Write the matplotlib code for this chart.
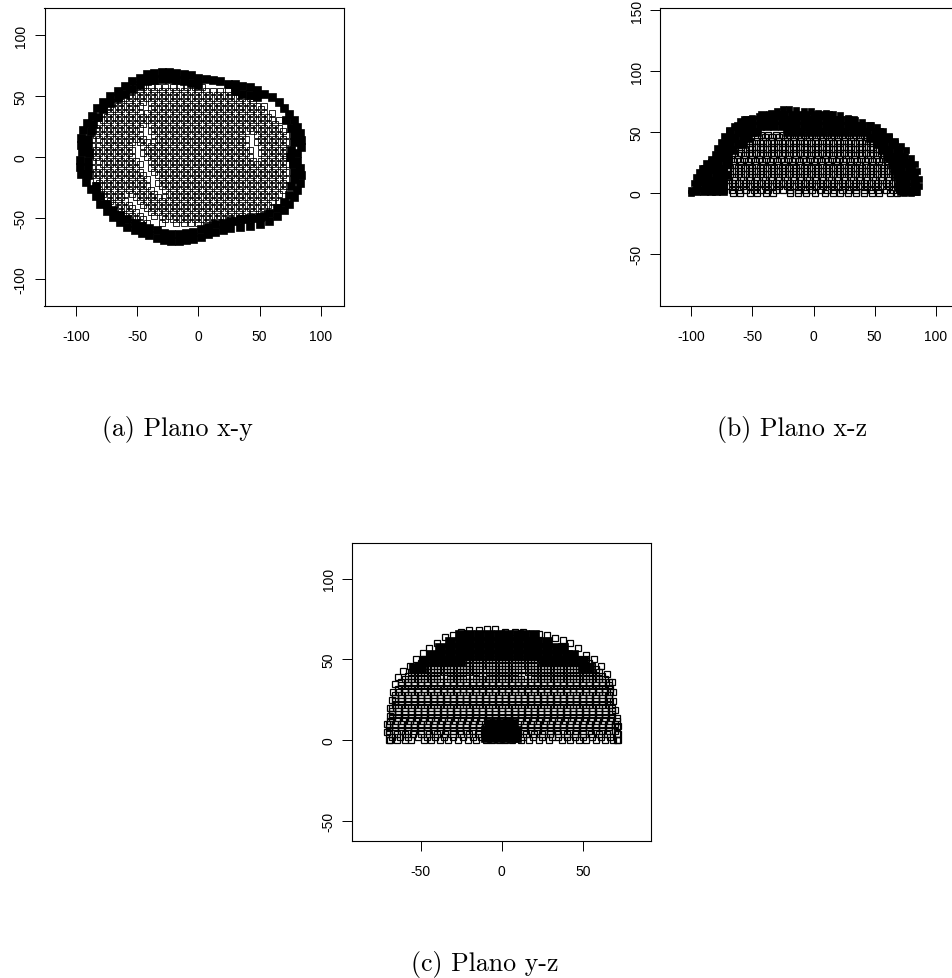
import matplotlib
matplotlib.use('Agg')
import matplotlib.pyplot as plt

W, H = 952, 979

# panel a, plano x-y
a_mesh_y = [54, 48, 42, 36, 30, 24, 18, 12, 6, 0, -6, -12, -18, -24, -30, -36, -42, -48, -54]
a_mesh_x = [
    [-60, -54, -48, -42, -36, -30, -24, -18, -12, -6, 0, 6, 12, 18, 24],
    [-66, -60, -54, -48, -42, -36, -30, -24, -18, -12, -6, 0, 6, 12, 18, 24, 30, 36, 42],
    [-72, -66, -60, -54, -48, -36, -30, -24, -18, -12, -6, 0, 6, 12, 18, 24, 30, 36, 42, 48, 54],
    [-78, -72, -66, -60, -54, -48, -42, -36, -30, -24, -18, -12, -6, 0, 6, 12, 18, 24, 30, 36, 42, 48, 54, 60],
    [-78, -72, -66, -60, -54, -48, -42, -36, -30, -24, -18, -12, -6, 0, 6, 12, 18, 24, 30, 36, 42, 48, 54, 60, 66],
    [-84, -78, -72, -66, -60, -54, -48, -36, -30, -24, -18, -12, -6, 0, 6, 12, 18, 24, 30, 36, 42, 48, 54, 60, 66],
    [-84, -78, -72, -66, -60, -54, -48, -36, -30, -24, -18, -12, -6, 0, 6, 12, 18, 24, 30, 36, 48, 54, 60, 66, 72],
    [-78, -72, -66, -60, -54, -48, -42, -36, -30, -24, -18, -12, -6, 0, 6, 12, 18, 24, 30, 36, 48, 54, 60, 66, 72],
    [-84, -78, -72, -66, -60, -54, -42, -36, -30, -24, -18, -12, -6, 0, 6, 12, 18, 24, 30, 36, 42, 54, 60, 66, 72],
    [-84, -78, -72, -66, -60, -54, -42, -36, -30, -24, -18, -12, -6, 0, 6, 12, 18, 24, 30, 36, 42, 54, 60, 66, 72],
    [-78, -72, -66, -60, -54, -48, -36, -30, -24, -18, -12, -6, 0, 6, 12, 18, 24, 30, 36, 42, 48, 54, 60, 66, 72],
    [-84, -78, -72, -66, -60, -54, -48, -36, -30, -24, -18, -12, -6, 0, 6, 12, 18, 24, 30, 36, 42, 48, 54, 60, 66, 72],
    [-84, -78, -72, -66, -60, -54, -48, -42, -30, -24, -18, -12, -6, 0, 6, 12, 18, 24, 30, 36, 42, 48, 54, 60, 66, 72],
    [-78, -72, -66, -60, -54, -48, -42, -30, -24, -18, -12, -6, 0, 6, 12, 18, 24, 30, 36, 42, 48, 54, 60, 66, 72],
    [-78, -72, -66, -60, -54, -48, -42, -36, -24, -18, -12, -6, 0, 6, 12, 18, 24, 30, 36, 42, 48, 54, 60, 66],
    [-72, -66, -60, -48, -42, -36, -30, -24, -18, -12, -6, 0, 6, 12, 18, 24, 30, 36, 42, 48, 54, 60, 66],
    [-66, -60, -54, -42, -36, -30, -24, -18, -12, -6, 0, 6, 12, 18, 24, 30, 36, 42, 48, 54, 60],
    [-60, -54, -48, -36, -30, -24, -18, -12, -6, 0, 6, 12, 18, 24, 30, 36, 42, 48],
    [-54, -48, -42, -30, -18, -12, -6, 0, 6, 12],
]
a_mesh2_y = [57, 51, 45, 39, 33, 27, 21, 15, 9, 3, -3, -9, -15, -21, -27, -33, -39, -45, -51]
a_mesh2_x = [
    [-57, -51, -45, -39, -33, -27, -21, -15, -9, -3, 3],
    [-63, -57, -51, -45, -39, -33, -27, -21, -15, -9, -3, 3, 9, 15, 21, 27, 33],
    [-69, -63, -57, -51, -45, -39, -33, -27, -21, -15, -9, -3, 3, 9, 15, 21, 27, 33, 39, 45],
    [-75, -69, -63, -57, -51, -39, -33, -27, -21, -15, -9, -3, 3, 9, 15, 21, 27, 33, 39, 45, 51],
    [-81, -75, -69, -63, -57, -51, -45, -39, -33, -27, -21, -15, -9, -3, 3, 9, 15, 21, 27, 33, 39, 45, 51, 57],
    [-81, -75, -69, -63, -57, -51, -45, -39, -33, -27, -21, -15, -9, -3, 3, 9, 15, 21, 27, 33, 39, 45, 51, 57, 63],
    [-87, -81, -75, -69, -63, -57, -51, -39, -33, -27, -21, -15, -9, -3, 3, 9, 15, 21, 27, 33, 39, 45, 51, 57, 63, 69],
    [-87, -81, -75, -69, -63, -57, -51, -45, -33, -27, -21, -15, -9, -3, 3, 9, 15, 21, 27, 33, 39, 51, 57, 63, 69],
    [-87, -81, -75, -69, -63, -57, -45, -39, -33, -27, -21, -15, -9, -3, 3, 9, 15, 21, 27, 33, 39, 51, 57, 63, 69],
    [-87, -81, -75, -69, -63, -57, -45, -39, -33, -27, -21, -15, -9, -3, 3, 9, 15, 21, 27, 33, 39, 51, 57, 63, 69],
    [-87, -81, -75, -69, -63, -57, -51, -39, -33, -27, -21, -15, -9, -3, 3, 9, 15, 21, 27, 33, 39, 45, 51, 57, 63, 69],
    [-87, -81, -75, -69, -63, -57, -51, -39, -33, -27, -21, -15, -9, -3, 3, 9, 15, 21, 27, 33, 39, 45, 51, 57, 63, 69],
    [-87, -81, -75, -69, -63, -57, -51, -45, -33, -27, -21, -15, -9, -3, 3, 9, 15, 21, 27, 33, 39, 45, 51, 57, 63, 69],
    [-81, -75, -69, -63, -57, -51, -45, -33, -27, -21, -15, -9, -3, 3, 9, 15, 21, 27, 33, 39, 45, 51, 57, 63, 69],
    [-81, -75, -69, -63, -57, -51, -45, -39, -27, -21, -15, -9, -3, 3, 9, 15, 21, 27, 33, 39, 45, 51, 57, 63, 69],
    [-75, -69, -63, -51, -45, -39, -33, -27, -21, -15, -9, -3, 3, 9, 15, 21, 27, 33, 39, 45, 51, 57, 63],
    [-69, -63, -57, -45, -39, -33, -27, -21, -15, -9, -3, 3, 9, 15, 21, 27, 33, 39, 45, 51, 57],
    [-63, -57, -51, -39, -33, -27, -21, -15, -9, -3, 3, 9, 15, 21, 27, 33, 39, 45, 51],
    [-57, -51, -45, -27, -21, -15, -9, -3, 3, 9, 15, 21, 27, 33, 39],
]
a_rim_x = [-42, -36, -30, -24, -18, -12, -6, 0, 6, 12, 18, 24, 30, 36, 42, 48, 54, 60, 66, 70, 74, 78, 81, 83, 84, 84, 81, 81, 83, 84, 83, 81, 78, 74, 70, 64, 58, 50, 42, 34, 26, 20, 14, 8, 2, -4, -10, -16, -22, -28, -34, -40, -46, -52, -58, -64, -70, -75, -80, -84, -88, -92, -96, -97, -97, -95, -96, -96, -94, -91, -87, -83, -78, -72, -66, -60, -54, -48]
a_rim_y = [68, 69, 70, 70, 69, 68, 67, 65, 64, 63, 62, 60, 60, 58, 57, 55, 52, 49, 45, 40, 35, 30, 25, 20, 14, 8, 3, -3, -9, -15, -21, -27, -33, -38, -43, -48, -52, -55, -56, -57, -58, -60, -61, -63, -65, -67, -68, -69, -69, -68, -66, -64, -62, -60, -57, -53, -49, -44, -38, -32, -26, -20, -14, -8, -2, 4, 10, 16, 22, 28, 34, 40, 45, 50, 54, 58, 62, 65]
a_band_x = [-90, -90, -90, -89, -90, -90, -88, -84, 76, 78, 78, 77, 75, 76, 78, 78, 76, 72, -36, -30, -24, -18, -12, -6, 0, -42, -48, -54, -60, -66, -72, -78, -82, -86, -34, -28, -22, -16, -10, -4, 2, 8, 14, 20, -40, -46, -52, -58, -64, -70, -75, -80, -84, 26, 30, 34, 38, 42, 46, 50, 54, 58, 64, 70, 74, 30, 36, 42, 48]
a_band_y = [-15, -9, -3, 3, 9, 15, 21, -24, -24, -18, -12, -6, 0, 6, 12, 18, 24, 30, 63, 64, 64, 63, 62, 61, 59, 62, 59, 56, 52, 48, 44, 39, 33, 27, -60, -62, -63, -63, -62, -61, -59, -57, -55, -54, -58, -56, -54, -51, -47, -43, -38, -32, -26, -52, -52, -51, -51, -50, -50, -49, -48, -46, -42, -37, -31, 54, 52, 51, 49]

# panel b, plano x-z
b_mesh_y = [46, 41, 36, 31, 26, 21, 16, 11, 6, 0]
b_mesh_x = [
    [-46, -40, -34, -28, -22, -16, -10, -4, 2, 8, 14, 20, 26, 32, 38, 44],
    [-50, -44, -38, -32, -26, -20, -14, -8, -2, 4, 10, 16, 22, 28, 34, 40, 46, 52],
    [-56, -50, -44, -38, -32, -26, -20, -14, -8, -2, 4, 10, 16, 22, 28, 34, 40, 46, 52],
    [-62, -56, -50, -44, -38, -32, -26, -20, -14, -8, -2, 4, 10, 16, 22, 28, 34, 40, 46, 52, 58],
    [-66, -60, -54, -48, -42, -36, -30, -24, -18, -12, -6, 0, 6, 12, 18, 24, 30, 36, 42, 48, 54, 60],
    [-68, -62, -56, -50, -44, -38, -32, -26, -20, -14, -8, -2, 4, 10, 16, 22, 28, 34, 40, 46, 52, 58, 64],
    [-68, -62, -56, -50, -44, -38, -32, -26, -20, -14, -8, -2, 4, 10, 16, 22, 28, 34, 40, 46, 52, 58, 64, 68],
    [-70, -64, -58, -52, -46, -40, -34, -28, -22, -16, -10, -4, 2, 8, 14, 20, 26, 32, 38, 44, 50, 56, 62, 68],
    [-70, -64, -58, -52, -46, -40, -34, -28, -22, -16, -10, -4, 2, 8, 14, 20, 26, 32, 38, 44, 50, 56, 62, 68],
    [-66, -60, -52, -46, -39, -33, -19, -13, -6, 1, 9, 16, 22, 28, 35, 41, 48, 54, 63, 68],
]
b_mesh2_y = [48, 43, 38, 33, 28, 23, 18, 13, 8, 3]
b_mesh2_x = [
    [-43, -37, -31, -25, -19, -13, -7, -1, 5, 11, 17, 23, 29, 35, 41],
    [-53, -47, -41, -35, -29, -23, -17, -11, -5, 1, 7, 13, 19, 25, 31, 37, 43, 49],
    [-59, -53, -47, -41, -35, -29, -23, -17, -11, -5, 1, 7, 13, 19, 25, 31, 37, 43, 49, 55],
    [-65, -59, -53, -47, -41, -35, -29, -23, -17, -11, -5, 1, 7, 13, 19, 25, 31, 37, 43, 49, 55],
    [-69, -63, -57, -51, -45, -39, -33, -27, -21, -15, -9, -3, 3, 9, 15, 21, 27, 33, 39, 45, 51, 57, 63],
    [-71, -65, -59, -53, -47, -41, -35, -29, -23, -17, -11, -5, 1, 7, 13, 19, 25, 31, 37, 43, 49, 55, 61],
    [-71, -65, -59, -53, -47, -41, -35, -29, -23, -17, -11, -5, 1, 7, 13, 19, 25, 31, 37, 43, 49, 55, 61, 67],
    [-71, -65, -59, -53, -47, -41, -35, -29, -23, -17, -11, -5, 1, 7, 13, 19, 25, 31, 37, 43, 49, 55, 61, 67],
    [-73, -67, -61, -55, -49, -43, -37, -31, -25, -19, -13, -7, -1, 5, 11, 17, 23, 29, 35, 41, 47, 53, 59, 65, 71],
    [-73, -67, -61, -55, -49, -43, -37, -31, -25, -19, -13, -7, -1, 5, 11, 17, 23, 29, 35, 41, 47, 53, 59, 65, 71],
]
b_band_y = [64, 60, 55, 50, 50, 45, 45, 40, 40, 35, 35, 30, 30, 25, 25, 20, 20, 15, 15, 10, 10, 5, 5, 2, 2]
b_band_x = [
    [-42, -36, -30, -24, -18, -12, -6, 0, 6, 12],
    [-56, -50, -44, -38, -32, -26, -20, -14, -8, -2, 4, 10, 16, 22, 28, 32],
    [-62, -56, -50, -44, -38, -32, -26, -20, -14, -8, -2, 4, 10, 16, 22, 28, 34, 40, 46],
    [-68, -62, -56, -50, -46],
    [-22, -16, -10, -4, 2, 8, 14, 20, 26, 32, 38, 44, 50, 54],
    [-70, -64, -58, -54],
    [46, 52, 58, 61],
    [-74, -68, -62, -58],
    [52, 58, 64, 66],
    [-76, -70, -66],
    [56, 62, 68, 70],
    [-79, -74, -70],
    [60, 66, 72, 74],
    [-83, -78, -72, -70],
    [64, 70, 76, 78],
    [-89, -84, -78, -74],
    [66, 72, 78, 80],
    [-92, -86, -80, -76, -72],
    [68, 74, 80, 82],
    [-94, -88, -82, -78, -74],
    [70, 76, 82, 83],
    [-95, -89, -83, -79, -74],
    [70, 76, 82, 83],
    [-96, -90, -84, -80, -74],
    [72, 78, 83],
]
b_edge_x = [-100, -100, -98, -96, -94, -91, -88, -84, -81, -79, -76, -73, -69, -65, -60, -55, -50, -45, -40, -35, -30, -25, -20, -14, -8, -2, 4, 10, 16, 22, 28, 34, 40, 46, 52, 57, 62, 67, 72, 76, 80, 83, 85, 86, 86, 85, 80, 74]
b_edge_y = [0, 3, 8, 13, 17, 21, 25, 28, 32, 37, 42, 47, 52, 55, 59, 61, 62, 63, 64, 66, 67, 69, 69, 68, 67, 67, 66, 66, 65, 64, 62, 60, 58, 56, 54, 51, 47, 43, 39, 35, 29, 24, 18, 12, 6, 1, 0, 0]

# panel c, plano y-z
c_mesh_y = [52, 48, 44, 40, 36, 32, 28, 24, 20, 16, 12, 8, 4, 0]
c_mesh_x = [
    [-44, -40, -36, -32, -28, -24, -20, -16, -12, -8, -4, 0, 4, 8, 12, 16, 20, 24, 28, 32, 36, 40, 44],
    [-50, -46, -42, -38, -34, -30, -26, -22, -18, -14, -10, -6, -2, 2, 6, 10, 14, 18, 22, 26, 30, 34, 38, 42, 46, 50, 54],
    [-54, -50, -46, -42, -38, -34, -30, -26, -22, -18, -14, -10, -6, -2, 2, 6, 10, 14, 18, 22, 26, 30, 34, 38, 42, 46, 50, 54, 58],
    [-58, -54, -50, -46, -42, -38, -34, -30, -26, -22, -18, -14, -10, -6, -2, 2, 6, 10, 14, 18, 22, 26, 30, 34, 38, 42, 46, 50, 54, 58, 62],
    [-62, -58, -54, -50, -46, -42, -38, -34, -30, -26, -22, -18, -14, -10, -6, -2, 2, 6, 10, 14, 18, 22, 26, 30, 34, 38, 42, 46, 50, 54, 58, 62, 66],
    [-64, -60, -56, -52, -48, -44, -40, -36, -32, -28, -24, -20, -16, -12, -8, -4, 0, 4, 8, 12, 16, 20, 24, 28, 32, 36, 40, 44, 48, 52, 56, 60, 64, 67],
    [-66, -62, -58, -54, -50, -46, -42, -38, -34, -30, -26, -22, -18, -14, -10, -6, -2, 2, 6, 10, 14, 18, 22, 26, 30, 34, 38, 42, 46, 50, 54, 58, 62, 66],
    [-66, -62, -58, -54, -50, -46, -42, -38, -34, -30, -26, -22, -18, -14, -10, -6, -2, 2, 6, 10, 14, 18, 22, 26, 30, 34, 38, 42, 46, 50, 54, 58, 62, 67],
    [-68, -64, -60, -56, -52, -48, -44, -40, -36, -32, -28, -24, -20, -16, -12, -8, -4, 0, 4, 8, 12, 16, 20, 24, 28, 32, 36, 40, 44, 48, 52, 56, 60, 64, 68],
    [-68, -64, -60, -56, -52, -48, -44, -40, -36, -32, -28, -24, -20, -16, -12, -8, -4, 0, 4, 8, 12, 16, 20, 24, 28, 32, 36, 40, 44, 48, 52, 56, 60, 64, 68],
    [-69, -65, -61, -57, -53, -49, -45, -41, -37, -33, -29, -25, -21, -17, -13, -9, -5, -1, 3, 7, 11, 15, 19, 23, 27, 31, 35, 39, 43, 47, 51, 55, 59, 63, 67, 71],
    [-70, -66, -62, -58, -54, -50, -46, -42, -38, -34, -30, -26, -22, -18, -14, -10, -6, -2, 2, 6, 10, 14, 18, 22, 26, 30, 34, 38, 42, 46, 50, 54, 58, 62, 66, 71],
    [-70, -65, -60, -55, -50, -45, -40, -35, -30, -25, -20, -15, -10, -5, 0, 5, 10, 15, 20, 25, 30, 35, 40, 45, 50, 55, 60, 65, 71],
    [-69, -65, -60, -56, -48, -44, -38, -33, -27, -21, -16, -10, -6, -2, 2, 6, 12, 17, 23, 29, 37, 42, 48, 52, 58, 64, 69, 71],
]
c_mesh2_y = [50, 46, 42, 38, 34, 30, 26, 22, 18, 14, 10, 6, 2]
c_mesh2_x = [
    [-48, -44, -40, -36, -32, -28, -24, -20, -16, -12, -8, -4, 0, 4, 8, 12, 16, 20, 24, 28, 32, 36, 40, 44, 48, 52],
    [-52, -48, -44, -40, -36, -32, -28, -24, -20, -16, -12, -8, -4, 0, 4, 8, 12, 16, 20, 24, 28, 32, 36, 40, 44, 48, 52, 56],
    [-56, -52, -48, -44, -40, -36, -32, -28, -24, -20, -16, -8, -4, 0, 4, 8, 16, 20, 24, 28, 32, 36, 40, 44, 48, 52, 56, 60],
    [-60, -56, -52, -48, -44, -40, -32, -28, -24, -16, -12, -8, -4, 0, 4, 8, 12, 20, 24, 28, 32, 36, 40, 44, 48, 52, 56, 60, 64],
    [-62, -58, -54, -50, -46, -42, -38, -34, -30, -26, -22, -18, -14, -10, -6, -2, 2, 6, 10, 14, 18, 22, 26, 30, 34, 38, 42, 46, 50, 54, 58, 62, 66],
    [-64, -60, -56, -52, -48, -44, -40, -36, -32, -28, -24, -20, -16, -12, -8, -4, 0, 4, 8, 12, 16, 20, 24, 28, 32, 36, 40, 44, 48, 52, 56, 60, 64, 67],
    [-66, -62, -58, -54, -50, -46, -42, -38, -34, -30, -26, -22, -18, -14, -10, -6, -2, 2, 6, 10, 14, 18, 22, 26, 30, 34, 38, 42, 46, 50, 54, 58, 62, 66],
    [-66, -62, -58, -54, -50, -46, -42, -38, -34, -30, -26, -22, -18, -14, -10, -6, -2, 2, 6, 10, 14, 18, 22, 26, 30, 34, 38, 42, 46, 50, 54, 58, 62, 66],
    [-68, -64, -60, -56, -52, -48, -44, -40, -36, -32, -28, -24, -20, -16, -12, -8, -4, 0, 4, 8, 12, 16, 20, 24, 28, 32, 36, 40, 44, 48, 52, 56, 60, 64, 68],
    [-68, -64, -60, -56, -52, -48, -44, -40, -36, -32, -28, -24, -20, -16, -12, -8, -4, 0, 4, 8, 12, 16, 20, 24, 28, 32, 36, 40, 44, 48, 52, 56, 60, 64, 68],
    [-70, -66, -62, -58, -54, -50, -46, -42, -38, -34, -30, -26, -22, -18, -14, 14, 18, 22, 26, 30, 34, 38, 42, 46, 50, 54, 58, 62, 66, 70],
    [-70, -66, -62, -58, -54, -50, -46, -42, -38, -34, -30, -26, -22, -18, -14, 14, 18, 22, 26, 30, 34, 38, 42, 46, 50, 54, 58, 62, 66, 70],
    [-68, -63, -58, -52, -46, -41, -36, -30, -24, -18, -13, 13, 19, 25, 31, 35, 40, 45, 50, 56, 61, 67],
]
c_band_y = [65, 61, 57, 53, 49, 45, 10, 6, 2]
c_band_x = [
    [-26, -20, -14, -8, -2, 4, 10, 14, 20],
    [-32, -26, -20, -14, -8, -2, 4, 10, 16, 22, 28],
    [-38, -32, -26, -20, -14, -8, -2, 4, 10, 16, 22, 28, 34, 38],
    [-44, -38, -32, -26, -20, -14, -8, -2, 4, 10, 16, 22, 28, 34, 40, 44],
    [-48, -42, -36, -30, -26, 26, 32, 38, 44, 50],
    [-54, -50, 50, 54],
    [-8, -4, 0, 4, 7],
    [-10, -6, -2, 2, 6, 9],
    [-10, -6, -2, 2, 6, 9],
]
c_edge_x = [-70, -71, -71, -69, -69, -68, -67, -66, -64, -61, -57, -53, -49, -45, -40, -35, -30, -25, -20, -14, -9, -4, 2, 8, 13, 18, 23, 28, 33, 38, 42, 47, 52, 57, 61, 65, 68, 69, 69, 70, 71, 72, 72, 72]
c_edge_y = [0, 5, 10, 15, 20, 25, 30, 35, 39, 43, 46, 50, 54, 57, 60, 64, 65, 67, 68, 68, 69, 69, 67, 67, 67, 66, 66, 65, 63, 62, 60, 57, 53, 50, 46, 41, 36, 30, 24, 19, 14, 9, 4, 0]

panel_xt = [[-100, -50, 0, 50, 100], [-100, -50, 0, 50, 100], [-50, 0, 50]]
panel_yt = [[-100, -50, 0, 50, 100], [-50, 0, 50, 100, 150], [-50, 0, 50, 100]]
captions = ['(a) Plano x-y', '(b) Plano x-z', '(c) Plano y-z']


def make_axes(fig, box, xlim, ylim, xt, yt):
    left, top, right, bottom = box
    ax = fig.add_axes([left / W, 1 - bottom / H, (right - left) / W, (bottom - top) / H])
    ax.set_xlim(xlim)
    ax.set_ylim(ylim)
    ax.set_xticks(xt)
    ax.set_xticklabels([str(v) for v in xt], fontsize=10, family='Liberation Sans')
    ax.set_yticks(yt)
    ax.set_yticklabels([str(v) for v in yt], fontsize=10, family='Liberation Sans', rotation=90, va='center')
    ax.tick_params(axis='x', length=7, width=0.7, pad=9.5)
    ax.tick_params(axis='y', length=7, width=0.7, pad=5)
    for s in ax.spines.values():
        s.set_linewidth(0.8)
    return ax


def draw_rows(ax, ys, xs, size, lw):
    for y, row in zip(ys, xs):
        ax.plot(row, [y] * len(row), ls='none', marker='s', ms=size, mew=lw, mfc='none', mec='black', snap=False)


def draw_dark(ax, ys, xs, size):
    for y, row in zip(ys, xs):
        ax.plot(row, [y] * len(row), ls='none', marker='s', ms=size, mew=0.5, mfc='black', mec='black', snap=False)


fig = plt.figure(figsize=(W / 100, H / 100), dpi=100)

ax = make_axes(fig, (44.5, 8.7, 344, 307), (-125.7, 119), (-121.8, 122.3), panel_xt[0], panel_yt[0])
draw_rows(ax, a_mesh_y, a_mesh_x, 4.2, 0.6)
draw_rows(ax, a_mesh2_y, a_mesh2_x, 4.2, 0.6)
ax.plot(a_band_x, a_band_y, ls='none', marker='s', ms=6, mfc='black', mec='black', mew=0.5, snap=False)
ax.plot(a_rim_x, a_rim_y, ls='none', marker='s', ms=6, mfc='black', mec='black', mew=0.5, snap=False)

ax = make_axes(fig, (660.3, 8.7, 960, 307), (-125.4, 119.9), (-92.3, 151.9), panel_xt[1], panel_yt[1])
draw_rows(ax, b_mesh_y, b_mesh_x, 4.0, 0.9)
draw_rows(ax, b_mesh2_y, b_mesh2_x, 4.0, 0.9)
draw_dark(ax, b_band_y, b_band_x, 6)
ax.plot(b_edge_x, b_edge_y, ls='none', marker='s', ms=4.3, mfc='black', mec='black', mew=0.5, snap=False)

ax = make_axes(fig, (352.3, 543.7, 651, 842), (-92.4, 92.2), (-62.3, 122.2), panel_xt[2], panel_yt[2])
draw_rows(ax, c_mesh_y, c_mesh_x, 4.0, 0.9)
draw_rows(ax, c_mesh2_y, c_mesh2_x, 4.0, 0.9)
draw_dark(ax, c_band_y, c_band_x, 7)
ax.plot(c_edge_x, c_edge_y, ls='none', marker='s', ms=4, mfc='none', mec='black', mew=0.9, snap=False)

cap_font = dict(family='cmr10', fontsize=18.6, ha='center', va='baseline')
fig.text(177 / W, 1 - 435.7 / H, captions[0], **cap_font)
fig.text(792.5 / W, 1 - 435.7 / H, captions[1], **cap_font)
fig.text(485 / W, 1 - 970.7 / H, captions[2], **cap_font)

fig.savefig('out.png', dpi=100)
